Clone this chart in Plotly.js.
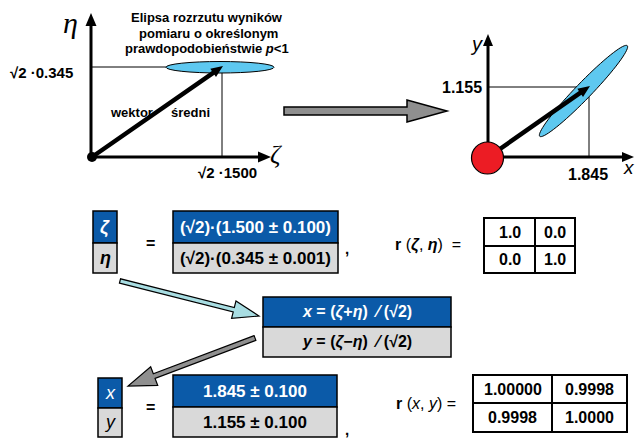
<!DOCTYPE html>
<html>
<head>
<meta charset="utf-8">
<script src="https://cdn.plot.ly/plotly-3.0.1.min.js"></script>
<style>html,body{margin:0;padding:0;background:#fff;}#chart{width:639px;height:438px;}</style>
</head>
<body>
<div id="chart"></div>
<script>
// ---- values shown in the diagram ----
const zetaEtaNames = ["ζ", "η"];
const zetaEtaRows = ["(√2)·(1.500 ± 0.100)", "(√2)·(0.345 ± 0.001)"];
const xyNames = ["x", "y"];
const xyRows = ["1.845 ± 0.100", "1.155 ± 0.100"];
const transformRows = ["<i>x</i> = (<i>ζ</i>+<i>η</i>)  ⁄ (√2)", "<i>y</i> = (<i>ζ</i>−<i>η</i>)  ⁄ (√2)"];
const rZetaEta = [["1.0", "0.0"], ["0.0", "1.0"]];
const rXY = [["1.00000", "0.9998"], ["0.9998", "1.0000"]];
const leftMeanLabels = ["√2 ·0.345", "√2 ·1500"];
const rightMeanLabels = ["1.155", "1.845"];
const ellipseTitle = ["Elipsa rozrzutu wyników", "pomiaru o określonym", "prawdopodobieństwie <i>p</i>&lt;1"];
const vectorLabel = ["wektor", "średni"];

// ---- drawing helpers ----
const BLUE = "#0b5aa8", GREY = "#d9d9d9", SKY = "#5ec8f0";
const shapes = [];
const ann = [];
const FONT = "Liberation Sans, Arial, sans-serif";

function pathOf(pts) {
  return "M " + pts.map(p => p[0].toFixed(2) + "," + p[1].toFixed(2)).join(" L ") + " Z";
}
function poly(pts, fill, lw, lc) {
  shapes.push({type: "path", xref: "x", yref: "y", path: pathOf(pts), fillcolor: fill,
    line: {width: lw, color: lc || "#000"}});
}
function line(x0, y0, x1, y1, w) {
  shapes.push({type: "line", xref: "x", yref: "y", x0, y0, x1, y1, line: {color: "#000", width: w}});
}
function rect(x0, y0, x1, y1, fill, lw) {
  shapes.push({type: "rect", xref: "x", yref: "y", x0, y0, x1, y1, fillcolor: fill, line: {color: "#000", width: lw}});
}
function circ(cx, cy, r, fill, lw) {
  shapes.push({type: "circle", xref: "x", yref: "y", x0: cx - r, x1: cx + r, y0: cy - r, y1: cy + r,
    fillcolor: fill, line: {color: "#000", width: lw}});
}
function ellipse(cx, cy, a, b, deg, fill) {
  const t = deg * Math.PI / 180, pts = [];
  for (let i = 0; i < 72; i++) {
    const u = i / 72 * 2 * Math.PI;
    const ex = a * Math.cos(u), ey = b * Math.sin(u);
    pts.push([cx + ex * Math.cos(t) + ey * Math.sin(t), cy - ex * Math.sin(t) + ey * Math.cos(t)]);
  }
  poly(pts, fill, 1, "#000");
}
function arrow(x0, y0, x1, y1, sw, hl, hw) {
  const dx = x1 - x0, dy = y1 - y0, L = Math.hypot(dx, dy);
  const ux = dx / L, uy = dy / L, nx = -uy, ny = ux;
  const bx = x1 - ux * hl, by = y1 - uy * hl;
  return [
    [x0 + nx * sw / 2, y0 + ny * sw / 2],
    [bx + nx * sw / 2, by + ny * sw / 2],
    [bx + nx * hw / 2, by + ny * hw / 2],
    [x1, y1],
    [bx - nx * hw / 2, by - ny * hw / 2],
    [bx - nx * sw / 2, by - ny * sw / 2],
    [x0 - nx * sw / 2, y0 - ny * sw / 2]
  ];
}
function text(x, y, t, size, color, opts) {
  opts = opts || {};
  ann.push({xref: "x", yref: "y", x, y, text: t, showarrow: false, xanchor: opts.xa || "center", yanchor: "middle",
    font: {family: opts.family || FONT, size, color: color || "#000"}});
}

// ---- left diagram (zeta, eta) ----
line(91, 67, 222, 67, 1);
line(222, 67, 222, 157, 1);
line(91, 157, 91, 25, 3);
poly([[91, 13], [85.5, 26], [96.5, 26]], "#000", 0);
line(91, 157, 259, 157, 3);
poly([[271, 157], [258, 151.5], [258, 162.5]], "#000", 0);
shapes.push({type: "circle", xref: "x", yref: "y", x0: 166, x1: 274, y0: 61.5, y1: 73, fillcolor: SKY, line: {color: "#000", width: 1}});
poly(arrow(92, 157, 223, 66, 4.5, 12, 10), "#000", 0);
circ(92, 157, 5, "#000", 0);

text(70, 22, "<i>η</i>", 30, "#000", {family: "Liberation Serif, serif"});
text(276, 154, "<i>ζ</i>", 26, "#000", {family: "Liberation Serif, serif"});
text(41, 72, "<b>" + leftMeanLabels[0] + "</b>", 15);
text(227, 172, "<b>" + leftMeanLabels[1] + "</b>", 15);
text(131, 112, "<b>" + vectorLabel[0] + "</b>", 13);
text(190, 112, "<b>" + vectorLabel[1] + "</b>", 13);
text(207, 17, "<b>" + ellipseTitle[0] + "</b>", 13);
text(208, 33, "<b>" + ellipseTitle[1] + "</b>", 13);
text(207, 48.5, "<b>" + ellipseTitle[2] + "</b>", 13);

// ---- big grey arrow ----
poly([[284, 107], [407, 107], [407, 100], [447, 111], [407, 122], [407, 115], [284, 115]], "#8f8f8f", 1.5);

// ---- right diagram (x, y) ----
line(488, 87, 589, 87, 1);
line(589, 87, 589, 157, 1);
line(488, 158, 488, 44, 3);
poly([[488, 34], [483, 46], [493, 46]], "#000", 0);
line(488, 157, 623, 157, 3);
poly([[634, 157], [622, 152], [622, 162]], "#000", 0);
ellipse(583.5, 91, 63, 8, 46, SKY);
poly(arrow(487, 158, 590, 86, 4.5, 12, 10), "#000", 0);
circ(487.5, 158, 16, "#ec1c24", 1.2);

text(476, 44, "<i>y</i>", 20, "#000");
text(629, 167, "<i>x</i>", 19, "#000");
text(462, 87, "<b>" + rightMeanLabels[0] + "</b>", 16);
text(588, 174, "<b>" + rightMeanLabels[1] + "</b>", 16);

// ---- first equation row ----
rect(93, 211, 117, 243, BLUE, 1.5);
rect(93, 243, 117, 273, GREY, 1.5);
rect(173, 211, 338, 243, BLUE, 1.5);
rect(173, 243, 338, 273, GREY, 1.5);
text(105, 227, "<b><i>" + zetaEtaNames[0] + "</i></b>", 18, "#fff");
text(105, 258, "<b><i>" + zetaEtaNames[1] + "</i></b>", 18, "#000");
text(150, 243, "<b>=</b>", 16);
text(255.5, 227, "<b>" + zetaEtaRows[0] + "</b>", 17, "#fff");
text(255.5, 258, "<b>" + zetaEtaRows[1] + "</b>", 17, "#000");
text(347, 248, "<b>,</b>", 15);
text(428, 245, "<b>r</b> (<b><i>ζ</i></b>, <b><i>η</i></b>)  =", 16);
rect(484, 218, 575, 273, "#fff", 2);
line(535, 218, 535, 273, 2);
line(484, 246, 575, 246, 2);
for (let r = 0; r < 2; r++) for (let c = 0; c < 2; c++)
  text(c === 0 ? 509.5 : 555, r === 0 ? 232 : 259.5, "<b>" + rZetaEta[r][c] + "</b>", 16);

// ---- transformation box ----
poly(arrow(120, 281, 259, 316, 4.5, 26, 18), "#a8dde2", 1.2);
rect(263, 297, 451, 327, BLUE, 1.5);
rect(263, 327, 451, 357, GREY, 1.5);
text(357, 312, "<b>" + transformRows[0] + "</b>", 16, "#fff");
text(357, 342, "<b>" + transformRows[1] + "</b>", 16, "#000");
poly(arrow(255, 338, 128, 386, 5, 28, 20), "#8f8f8f", 1.2);

// ---- second equation row ----
rect(98, 378, 122, 408, BLUE, 1.5);
rect(98, 408, 122, 437, GREY, 1.5);
text(110, 393, "<i>" + xyNames[0] + "</i>", 18, "#fff");
text(110, 422, "<i>" + xyNames[1] + "</i>", 18, "#000");
text(150, 407, "<b>=</b>", 16);
rect(173, 375, 337, 407, BLUE, 1.5);
rect(173, 407, 337, 437, GREY, 1.5);
text(255, 391, "<b>" + xyRows[0] + "</b>", 17, "#fff");
text(255, 422, "<b>" + xyRows[1] + "</b>", 17, "#000");
text(347, 429, "<b>,</b>", 15);
text(426, 403, "<b>r</b> (<i>x</i>, <i>y</i>) =", 16);
rect(473, 375, 627, 432, "#fff", 2);
line(552, 375, 552, 432, 2);
line(473, 403, 627, 403, 2);
for (let r = 0; r < 2; r++) for (let c = 0; c < 2; c++)
  text(c === 0 ? 512.5 : 589.5, r === 0 ? 389 : 417.5, "<b>" + rXY[r][c] + "</b>", 16);

const layout = {
  width: 639, height: 438,
  margin: {l: 0, r: 0, t: 0, b: 0},
  paper_bgcolor: "#fff", plot_bgcolor: "#fff",
  showlegend: false,
  xaxis: {range: [0, 639], visible: false, fixedrange: true},
  yaxis: {range: [438, 0], visible: false, fixedrange: true},
  shapes: shapes,
  annotations: ann
};
Plotly.newPlot("chart", [], layout, {staticPlot: true, displayModeBar: false});
</script>
</body>
</html>
